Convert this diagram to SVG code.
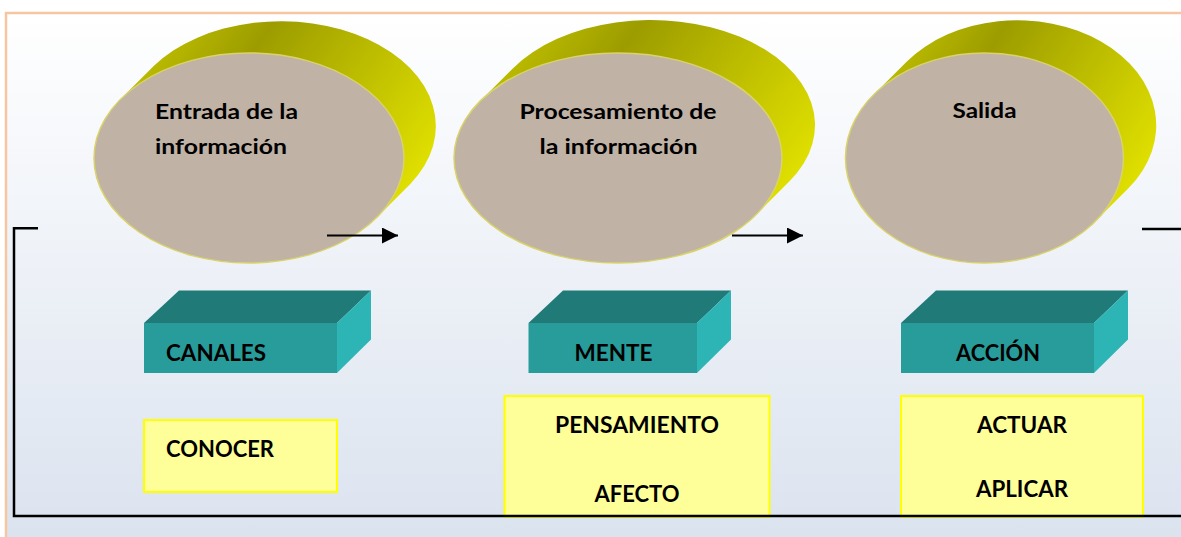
<svg xmlns="http://www.w3.org/2000/svg" width="1181" height="537" viewBox="0 0 1181 537">
<style>
.lbl{font-family:Lato,"Open Sans","Liberation Sans",sans-serif;font-weight:bold;fill:#000}
.t1{font-size:21.5px}
.t2{font-size:23px}
.front{fill:#C0B2A5;stroke:#D9D36A;stroke-width:1.5}
.side{fill:url(#gOlive)}
.ftop{fill:#1F7A78}
.ffront{fill:#279C9A}
.fright{fill:#2DB5B5}
.note{fill:#FFFF99;stroke:#FFFF00;stroke-width:2}
.wire{fill:none;stroke:#000;stroke-width:2.5}
.arrow{fill:none;stroke:#000;stroke-width:2}
</style>
<defs>
<linearGradient id="bg" x1="0" y1="0" x2="0" y2="1">
<stop offset="0" stop-color="#FFFFFF"/>
<stop offset="1" stop-color="#DBE3EF"/>
</linearGradient>
<linearGradient id="gOlive" x1="0" y1="0.1" x2="1" y2="0.6">
<stop offset="0" stop-color="#D0D000"/>
<stop offset="0.38" stop-color="#9C9C00"/>
<stop offset="0.75" stop-color="#C6C600"/>
<stop offset="1" stop-color="#E2E200"/>
</linearGradient>
<marker id="ah" markerUnits="userSpaceOnUse" markerWidth="18" markerHeight="16" refX="16" refY="8" orient="auto">
<path d="M0,0 L16,8 L0,16 Z" fill="#000"/>
</marker>
</defs>
<rect x="0" y="0" width="1181" height="537" fill="#FFFFFF"/>
<rect x="6" y="13" width="1175" height="524" fill="url(#bg)"/>
<path d="M6,537 L6,13 L1181,13" fill="none" stroke="#F8C5A2" stroke-width="2.5"/>

<g id="node-entrada">
<path class="side" d="M120.7,99.1 L153.7,66.1 A155,105 0 0 1 410.3,183.9 L377.3,216.9 A155,105 0 0 1 120.7,99.1 Z"/>
<ellipse class="front" cx="249" cy="158" rx="155" ry="105"/>
<text class="lbl t1" x="155" y="118.5" textLength="143" lengthAdjust="spacingAndGlyphs">Entrada de la</text>
<text class="lbl t1" x="155" y="154" textLength="132" lengthAdjust="spacingAndGlyphs">información</text>
</g>
<g id="node-procesamiento">
<path class="side" d="M479.8,101.4 L512.8,68.4 A164,105 0 0 1 789.2,181.6 L756.2,214.6 A164,105 0 0 1 479.8,101.4 Z"/>
<ellipse class="front" cx="618" cy="158" rx="164" ry="105"/>
<text class="lbl t1" x="519.5" y="118.5" textLength="197" lengthAdjust="spacingAndGlyphs">Procesamiento de</text>
<text class="lbl t1" x="539.5" y="154" textLength="158" lengthAdjust="spacingAndGlyphs">la información</text>
</g>
<g id="node-salida">
<path class="side" d="M873.6,94.7 L906.6,61.7 A139,105 0 0 1 1128.4,188.3 L1095.4,221.3 A139,105 0 0 1 873.6,94.7 Z"/>
<ellipse class="front" cx="984.5" cy="158" rx="139" ry="105"/>
<text class="lbl t1" x="952.5" y="117.5" textLength="64" lengthAdjust="spacingAndGlyphs">Salida</text>
</g>

<g id="node-canales">
<polygon class="ftop" points="144,323 179,290.5 371,290.5 337,323"/>
<polygon class="fright" points="337,323 371,290.5 371,339.5 337,373"/>
<rect class="ffront" x="144" y="323" width="193" height="50"/>
<text class="lbl t2" x="166" y="360.7" textLength="100" lengthAdjust="spacingAndGlyphs">CANALES</text>
</g>
<g id="node-mente">
<polygon class="ftop" points="528.5,323 563,290.5 731,290.5 697,323"/>
<polygon class="fright" points="697,323 731,290.5 731,339.5 697,373"/>
<rect class="ffront" x="528.5" y="323" width="168.5" height="50"/>
<text class="lbl t2" x="574.5" y="360.7" textLength="78" lengthAdjust="spacingAndGlyphs">MENTE</text>
</g>
<g id="node-accion">
<polygon class="ftop" points="901,323 936,290.5 1128,290.5 1094,323"/>
<polygon class="fright" points="1094,323 1128,290.5 1128,339.5 1094,373"/>
<rect class="ffront" x="901" y="323" width="193" height="50"/>
<text class="lbl t2" x="956" y="360.7" textLength="84" lengthAdjust="spacingAndGlyphs">ACCIÓN</text>
</g>

<g id="node-conocer">
<rect class="note" x="144" y="420" width="193" height="72"/>
<text class="lbl t2" x="166" y="456.7" textLength="108" lengthAdjust="spacingAndGlyphs">CONOCER</text>
</g>
<g id="node-pensamiento">
<rect class="note" x="504.5" y="396" width="265" height="121"/>
<text class="lbl t2" x="555" y="432.7" textLength="164" lengthAdjust="spacingAndGlyphs">PENSAMIENTO</text>
<text class="lbl t2" x="594.5" y="501.7" textLength="85" lengthAdjust="spacingAndGlyphs">AFECTO</text>
</g>
<g id="node-actuar">
<rect class="note" x="901" y="396" width="242" height="121"/>
<text class="lbl t2" x="977" y="432.7" textLength="90" lengthAdjust="spacingAndGlyphs">ACTUAR</text>
<text class="lbl t2" x="976" y="496.7" textLength="92" lengthAdjust="spacingAndGlyphs">APLICAR</text>
</g>

<g id="connectors">
<line class="arrow" x1="327" y1="235.5" x2="398" y2="235.5" marker-end="url(#ah)"/>
<line class="arrow" x1="732" y1="235.5" x2="803" y2="235.5" marker-end="url(#ah)"/>
<path class="wire" d="M38,228.3 L14,228.3 L14,516 L1181,516"/>
<path class="wire" d="M1142,229 L1181,229"/>
</g>
</svg>
